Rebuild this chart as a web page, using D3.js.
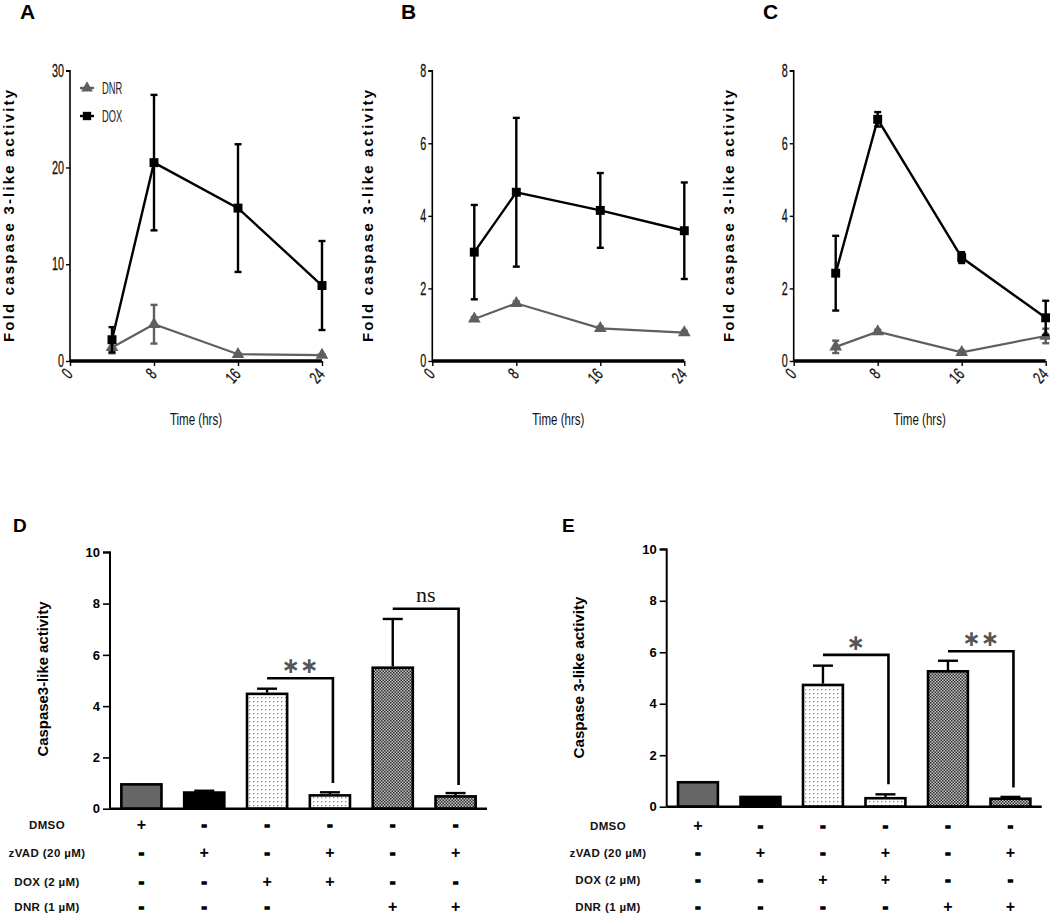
<!DOCTYPE html>
<html>
<head>
<meta charset="utf-8">
<script src="https://cdn.jsdelivr.net/npm/d3@7"></script>
<style>
  html, body { margin: 0; padding: 0; background: #fff; }
  svg { display: block; }
</style>
</head>
<body>
<svg id="chart" width="1050" height="917"></svg>
<script>
// ---------- DATA ----------
const hours = [4, 8, 16, 24];
const hourTicks = [0, 8, 16, 24];

const dnrA = [1.4, 3.8, 0.7, 0.6];
const dnrAErr = [0.6, 2.0, 0.1, 0.1];
const doxA = [2.2, 20.5, 15.8, 7.8];
const doxAErr = [1.3, 7.0, 6.6, 4.6];

const dnrB = [1.16, 1.59, 0.9, 0.78];
const dnrBErr = [0.05, 0.05, 0.05, 0.05];
const doxB = [3.0, 4.65, 4.15, 3.59];
const doxBErr = [1.3, 2.05, 1.03, 1.33];

const dnrC = [0.39, 0.81, 0.24, 0.69];
const dnrCErr = [0.17, 0.05, 0.05, 0.2];
const doxC = [2.42, 6.66, 2.85, 1.19];
const doxCErr = [1.03, 0.2, 0.15, 0.47];

const ticksA = [0, 10, 20, 30];
const ticksBC = [0, 2, 4, 6, 8];

const barCategories = ["DMSO", "zVAD", "DOX", "DOX+zVAD", "DNR", "DNR+zVAD"];
const barD = [1.0, 0.68, 4.53, 0.57, 5.55, 0.53];
const barDErr = [0, 0.02, 0.15, 0.07, 1.85, 0.08];
const barE = [1.0, 0.43, 4.78, 0.38, 5.31, 0.36];
const barEErr = [0, 0, 0.7, 0.1, 0.36, 0.02];
const barTicks = [0, 2, 4, 6, 8, 10];

const rowLabels = ["DMSO", "zVAD (20 µM)", "DOX (2 µM)", "DNR (1 µM)"];
const signsD = [
  ["+", "-", "-", "-", "-", "-"],
  ["-", "+", "-", "+", "-", "+"],
  ["-", "-", "+", "+", "-", "-"],
  ["-", "-", "-", "", "+", "+"]
];
const signsE = [
  ["+", "-", "-", "-", "-", "-"],
  ["-", "+", "-", "+", "-", "+"],
  ["-", "-", "+", "+", "-", "-"],
  ["-", "-", "-", "-", "+", "+"]
];
const sigD = [
  { from: 2, to: 3, level: 5.09, drop: 1.0, label: "**" },
  { from: 4, to: 5, level: 7.8, drop: 0.92, label: "ns" }
];
const sigE = [
  { from: 2, to: 3, level: 5.9, drop: 0.87, label: "*" },
  { from: 4, to: 5, level: 6.04, drop: 0.75, label: "**" }
];

// ---------- DRAW ----------
const svg = d3.select("#chart");
const sans = "'Liberation Sans', Arial, sans-serif";
const NARROW = 0.6;

// patterns
const defs = svg.append("defs");
const dots = defs.append("pattern").attr("id", "dots").attr("patternUnits", "userSpaceOnUse")
  .attr("width", 4).attr("height", 4);
dots.append("rect").attr("width", 4).attr("height", 4).attr("fill", "#fff");
dots.append("rect").attr("x", 1).attr("y", 1).attr("width", 1.3).attr("height", 1.3).attr("fill", "#8a8a8a");
const checker = defs.append("pattern").attr("id", "checker").attr("patternUnits", "userSpaceOnUse")
  .attr("width", 3).attr("height", 3);
checker.append("rect").attr("width", 3).attr("height", 3).attr("fill", "#c8c8c8");
checker.append("rect").attr("width", 1.5).attr("height", 1.5).attr("fill", "#2a2a2a");
checker.append("rect").attr("x", 1.5).attr("y", 1.5).attr("width", 1.5).attr("height", 1.5).attr("fill", "#2a2a2a");

// narrow text helper: draws text compressed horizontally
function narrowText(sel, x, y, str, size, sx, anchor) {
  return sel.append("text").attr("transform", `translate(${x},${y}) scale(${sx},1)`)
    .attr("text-anchor", anchor || "start").attr("font-family", sans).attr("font-size", size)
    .attr("fill", "#111").text(str);
}

function linePanel(cfg) {
  const g = svg.append("g");
  const x = d3.scaleLinear().domain([0, 24]).range([cfg.left, cfg.right]);
  const y = d3.scaleLinear().domain([0, cfg.ymax]).range([cfg.bottom, cfg.top]);

  // panel letter
  g.append("text").attr("x", cfg.letterX).attr("y", 19).text(cfg.letter)
    .attr("font-family", sans).attr("font-weight", "bold").attr("font-size", 21);

  // y axis
  const ya = g.append("g").attr("transform", `translate(${cfg.left},0)`)
    .call(d3.axisLeft(y).tickValues(cfg.ticks).tickSize(4).tickPadding(2));
  ya.select(".domain").attr("stroke-width", 1.6).attr("d", `M-4,${cfg.top}H0V${cfg.bottom}`);
  ya.selectAll(".tick line").attr("stroke-width", 1.4);
  ya.selectAll(".tick text").attr("font-family", sans).attr("font-size", 18).attr("fill", "#111")
    .attr("stroke", "#111").attr("stroke-width", 0.3)
    .attr("x", -6 / NARROW).attr("transform", `scale(${NARROW},1)`);

  // x axis
  const xa = g.append("g").attr("transform", `translate(0,${cfg.bottom})`)
    .call(d3.axisBottom(x).tickValues(hourTicks).tickSize(5).tickFormat(d3.format("d")));
  xa.select(".domain").attr("stroke-width", 3.5).attr("d", `M${cfg.left},0H${cfg.right}`);
  xa.selectAll(".tick line").attr("stroke-width", 1.4);
  xa.selectAll(".tick text").attr("font-family", sans).attr("font-size", 17).attr("fill", "#111")
    .attr("stroke", "#111").attr("stroke-width", 0.3)
    .attr("text-anchor", "end").attr("dy", null).attr("y", 0)
    .attr("transform", `translate(3,14) rotate(-48) scale(0.68,1)`);

  // axis titles
  narrowText(g, (cfg.left + cfg.right) / 2, 425, "Time (hrs)", 17, 0.68, "middle");
  g.append("text").attr("transform", `translate(${cfg.labelX},216) rotate(-90)`).attr("text-anchor", "middle")
    .attr("font-family", sans).attr("font-weight", "bold").attr("font-size", 15)
    .attr("textLength", 252).attr("lengthAdjust", "spacing").text("Fold caspase 3-like activity");

  const line = d3.line().x((d, i) => x(hours[i])).y(d => y(d));
  const series = [
    { vals: cfg.dnr, err: cfg.dnrErr, color: "#5f5f5f", shape: d3.symbolTriangle, w: 2.2 },
    { vals: cfg.dox, err: cfg.doxErr, color: "#000", shape: d3.symbolSquare, w: 2.4 }
  ];
  series.forEach(s => {
    const sg = g.append("g");
    s.vals.forEach((v, i) => {
      const cx = x(hours[i]);
      const lo = y(Math.max(0, v - s.err[i])), hi = y(v + s.err[i]);
      sg.append("line").attr("x1", cx).attr("x2", cx).attr("y1", lo).attr("y2", hi)
        .attr("stroke", s.color).attr("stroke-width", 2.4);
      [lo, hi].forEach(yy => sg.append("line").attr("x1", cx - 3.5).attr("x2", cx + 3.5)
        .attr("y1", yy).attr("y2", yy).attr("stroke", s.color).attr("stroke-width", 2.4));
    });
    sg.append("path").attr("d", line(s.vals)).attr("fill", "none")
      .attr("stroke", s.color).attr("stroke-width", s.w);
    sg.selectAll("path.m").data(s.vals).join("path").attr("class", "m")
      .attr("transform", (d, i) => `translate(${x(hours[i])},${y(d)})`)
      .attr("d", d3.symbol().type(s.shape).size(s.shape === d3.symbolSquare ? 80 : 70))
      .attr("fill", s.color);
  });

  if (cfg.legend) {
    const lg = g.append("g");
    const items = [
      { label: "DNR", color: "#5f5f5f", shape: d3.symbolTriangle, yy: 88 },
      { label: "DOX", color: "#000", shape: d3.symbolSquare, yy: 116 }
    ];
    items.forEach(it => {
      lg.append("line").attr("x1", 80).attr("x2", 94).attr("y1", it.yy).attr("y2", it.yy)
        .attr("stroke", it.color).attr("stroke-width", 2.4);
      lg.append("path").attr("transform", `translate(87,${it.yy})`)
        .attr("d", d3.symbol().type(it.shape).size(it.shape === d3.symbolSquare ? 70 : 60)).attr("fill", it.color);
      narrowText(lg, 102, it.yy + 6, it.label, 17, 0.55).attr("fill", "#222");
    });
  }
}

linePanel({ letter: "A", letterX: 20, left: 70, right: 322, top: 70.7, bottom: 361, ymax: 30, ticks: ticksA,
  labelX: 14, dnr: dnrA, dnrErr: dnrAErr, dox: doxA, doxErr: doxAErr, legend: true });
linePanel({ letter: "B", letterX: 401, left: 432.3, right: 684.3, top: 70.7, bottom: 361, ymax: 8, ticks: ticksBC,
  labelX: 373, dnr: dnrB, dnrErr: dnrBErr, dox: doxB, doxErr: doxBErr });
linePanel({ letter: "C", letterX: 763, left: 793.7, right: 1045.7, top: 70.7, bottom: 361, ymax: 8, ticks: ticksBC,
  labelX: 734, dnr: dnrC, dnrErr: dnrCErr, dox: doxC, doxErr: doxCErr });

function barPanel(cfg) {
  const g = svg.append("g");
  const x = d3.scaleBand().domain(barCategories).range([cfg.left, cfg.right]).paddingInner(0.32).paddingOuter(0.16);
  const y = d3.scaleLinear().domain([0, 10]).range([cfg.bottom, cfg.top]);
  const fills = ["#666", "#000", "url(#dots)", "url(#dots)", "url(#checker)", "url(#checker)"];

  g.append("text").attr("x", cfg.letterX).attr("y", 532).text(cfg.letter)
    .attr("font-family", sans).attr("font-weight", "bold").attr("font-size", 19);

  const ya = g.append("g").attr("transform", `translate(${cfg.left},0)`)
    .call(d3.axisLeft(y).tickValues(barTicks).tickSize(7).tickPadding(3));
  ya.select(".domain").attr("stroke-width", 2).attr("d", `M-7,${cfg.top}H0V${cfg.bottom}`);
  ya.selectAll(".tick line").attr("stroke-width", 1.6);
  ya.selectAll(".tick text").attr("font-family", sans).attr("font-weight", "bold").attr("font-size", 13).attr("fill", "#000");

  g.append("text").attr("transform", `translate(${cfg.labelX},${cfg.labelY}) rotate(-90)`).attr("text-anchor", "middle")
    .attr("font-family", sans).attr("font-weight", "bold").attr("font-size", 15)
    .attr("textLength", cfg.labelLen).attr("lengthAdjust", "spacingAndGlyphs").text(cfg.ylabel);

  // error bars (upper only)
  cfg.vals.forEach((v, i) => {
    const e = cfg.err[i];
    if (e <= 0) return;
    const cx = x(barCategories[i]) + x.bandwidth() / 2;
    g.append("line").attr("x1", cx).attr("x2", cx).attr("y1", y(v)).attr("y2", y(v + e))
      .attr("stroke", "#000").attr("stroke-width", 2.4);
    g.append("line").attr("x1", cx - 10).attr("x2", cx + 10).attr("y1", y(v + e)).attr("y2", y(v + e))
      .attr("stroke", "#000").attr("stroke-width", 2.4);
  });

  g.selectAll("rect.bar").data(cfg.vals).join("rect").attr("class", "bar")
    .attr("x", (d, i) => x(barCategories[i]) + 1.3)
    .attr("width", x.bandwidth() - 2.6)
    .attr("y", d => y(d) + 1.3)
    .attr("height", d => cfg.bottom - y(d) - 1.3)
    .attr("fill", (d, i) => fills[i]).attr("stroke", "#000").attr("stroke-width", 2.6);

  g.append("line").attr("x1", cfg.left).attr("x2", cfg.right).attr("y1", cfg.bottom).attr("y2", cfg.bottom)
    .attr("stroke", "#000").attr("stroke-width", 2.6);

  // significance brackets
  cfg.sig.forEach(s => {
    const x1 = x(barCategories[s.from]) + x.bandwidth() / 2;
    const x2 = x(barCategories[s.to]) + x.bandwidth() / 2 + 3;
    g.append("path").attr("d", `M${x1},${y(s.level)}H${x2}V${y(s.drop)}`)
      .attr("fill", "none").attr("stroke", "#000").attr("stroke-width", 2.6);
    if (s.label === "ns") {
      g.append("text").attr("x", (x1 + x2) / 2).attr("y", y(s.level) - 7).attr("text-anchor", "middle")
        .attr("font-family", "'Liberation Serif', 'Times New Roman', serif").attr("font-size", 22)
        .attr("fill", "#111").text("ns");
    } else {
      g.append("text").attr("x", (x1 + x2) / 2).attr("y", y(s.level) - 5).attr("text-anchor", "middle")
        .attr("font-family", "'DejaVu Sans', sans-serif").attr("font-size", 22).attr("font-weight", "bold")
        .attr("fill", "#555").attr("letter-spacing", 0)
        .text(s.label.replace(/\*/g, "∗"));
    }
  });

  // treatment table
  rowLabels.forEach((lab, r) => {
    g.append("text").attr("x", cfg.rowLabelX).attr("y", cfg.rowY[r] + 4).attr("text-anchor", "middle")
      .attr("font-family", sans).attr("font-weight", "bold").attr("font-size", 11.5).attr("fill", "#111")
      .attr("letter-spacing", 0.4).text(lab);
    cfg.signs[r].forEach((sg, i) => {
      if (!sg) return;
      const cx = x(barCategories[i]) + x.bandwidth() / 2;
      g.append("text").attr("x", cx).attr("y", cfg.rowY[r] + 5)
        .attr("text-anchor", "middle").attr("font-family", sans).attr("font-weight", "bold")
        .attr("font-size", 16).attr("stroke", "#000").attr("stroke-width", sg === "+" ? 0 : 1.3)
        .attr("fill", "#000").text(sg);
    });
  });
}

barPanel({ letter: "D", letterX: 13, left: 110, right: 487, top: 552.3, bottom: 808.7,
  labelX: 48, labelY: 679, labelLen: 155, ylabel: "Caspase3-like activity",
  vals: barD, err: barDErr, sig: sigD, signs: signsD, rowLabelX: 47, rowY: [825, 853, 882, 907] });
barPanel({ letter: "E", letterX: 562, left: 666.7, right: 1041.7, top: 549.3, bottom: 806.7,
  labelX: 584, labelY: 677.5, labelLen: 162, ylabel: "Caspase 3-like activity",
  vals: barE, err: barEErr, sig: sigE, signs: signsE, rowLabelX: 608, rowY: [826, 853, 880, 907] });
</script>
</body>
</html>
